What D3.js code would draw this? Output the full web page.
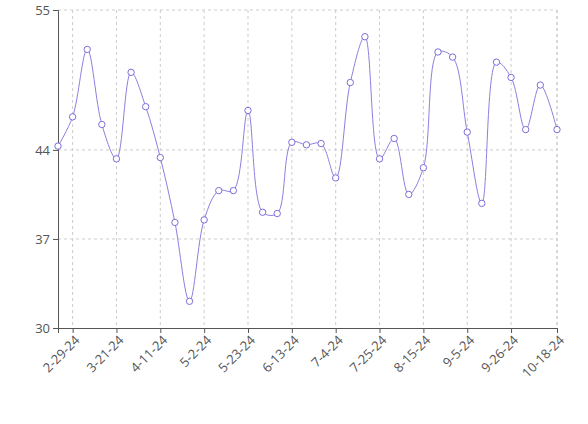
<!DOCTYPE html>
<html><head><meta charset="utf-8">
<script src="https://cdn.jsdelivr.net/npm/d3@7"></script>
<style>body{margin:0;background:#fff}text{font-family:"Open Sans",sans-serif}</style>
</head><body><svg id="c" width="588" height="424"></svg>
<script>
const startDate = "2024-02-22";
const values = [44.3,46.6,51.9,46.0,43.3,50.1,47.4,43.4,38.3,32.1,38.5,40.8,40.8,47.1,39.1,39.0,44.6,44.4,44.5,41.8,49.3,52.9,43.3,44.9,40.5,42.6,51.7,51.3,45.4,39.8,50.9,49.7,45.6,49.1,45.6];
const yTicks = [30,37,44,55];
const xTickLabels = ["2-29-24","3-21-24","4-11-24","5-2-24","5-23-24","6-13-24","7-4-24","7-25-24","8-15-24","9-5-24","9-26-24","10-18-24"];

const parse = d3.timeParse("%Y-%m-%d");
const s = parse(startDate);
const dates = values.map((v,i)=> i===values.length-1 ? parse("2024-10-18") : d3.timeDay.offset(s, 7*i));
const tickDates = xTickLabels.map(l=>{const [m,d,y]=l.split("-");return new Date(2000+ +y, m-1, +d);});

const svg = d3.select("#c");
const L=58,R=557,T=10,B=328;
const x = d3.scaleTime().domain([dates[0], dates[dates.length-1]]).range([L,R]);
const y = d3.scaleLinear().domain([30,55]).range([B,T]);

const g = svg.append("g");
g.selectAll(".vg").data(tickDates).join("line")
 .attr("x1",d=>x(d)).attr("x2",d=>x(d)).attr("y1",T).attr("y2",B)
 .attr("stroke","#ccc").attr("stroke-dasharray","3,3");
g.append("line").attr("x1",R).attr("x2",R).attr("y1",T).attr("y2",B).attr("stroke","#ccc").attr("stroke-dasharray","3,3");
g.selectAll(".hg").data(yTicks.slice(1)).join("line")
 .attr("x1",L).attr("x2",R).attr("y1",d=>y(d)).attr("y2",d=>y(d))
 .attr("stroke","#ccc").attr("stroke-dasharray","3,3");

const ya = svg.append("g").attr("transform",`translate(${L},0)`)
 .call(d3.axisLeft(y).tickValues(yTicks).tickSize(5).tickFormat(d3.format("d")));
ya.selectAll("text").attr("font-size",13).attr("fill","#555");
ya.selectAll("line,path").attr("stroke","#555");

const xa = svg.append("g").attr("transform",`translate(0,${B})`)
 .call(d3.axisBottom(x).tickValues(tickDates).tickSize(5).tickFormat((d,i)=>xTickLabels[i]));
xa.selectAll("line,path").attr("stroke","#555");
xa.selectAll("text").attr("font-size",13).attr("fill","#555")
 .attr("text-anchor","end").attr("dx","-0.3em").attr("dy","0.5em").attr("transform","rotate(-45)");

const line = d3.line().x((d,i)=>x(dates[i])).y(d=>y(d)).curve(d3.curveCatmullRom.alpha(0.5));
svg.append("path").datum(values).attr("d",line).attr("fill","none").attr("stroke","#8b80e0").attr("stroke-width",1);
svg.selectAll(".pt").data(values).join("circle")
 .attr("cx",(d,i)=>x(dates[i])).attr("cy",d=>y(d)).attr("r",3.2)
 .attr("fill","#fff").attr("stroke","#7b6fd8").attr("stroke-width",1);
</script></body></html>
